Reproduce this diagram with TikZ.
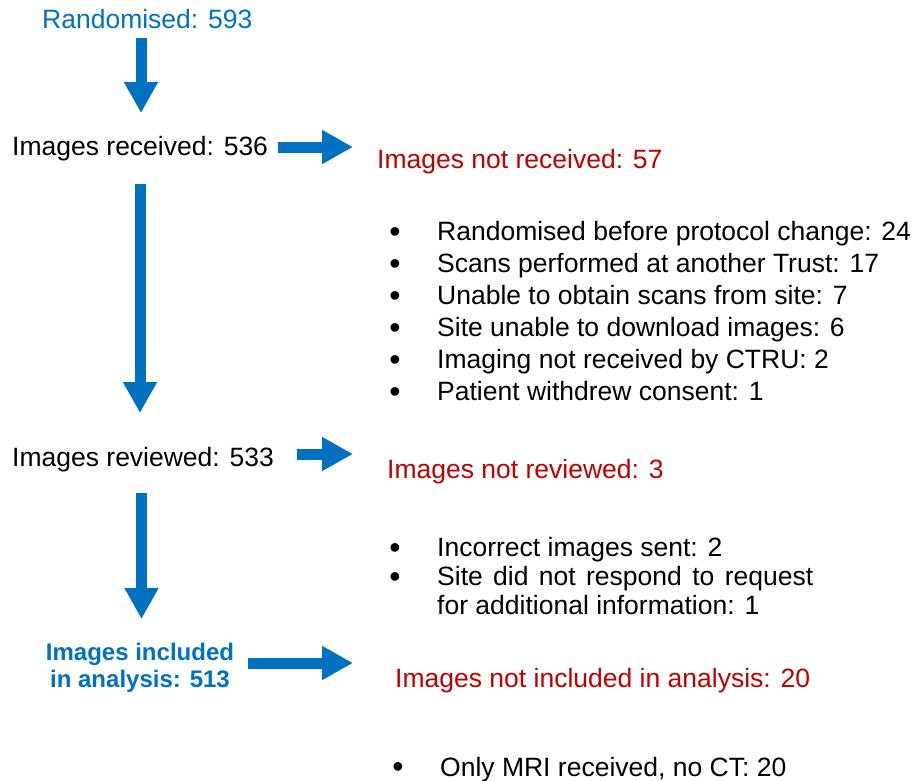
\documentclass[tikz,border=0pt]{standalone}
\usepackage{fontspec}
\setmainfont{Liberation Sans}
\usetikzlibrary{arrows.meta}
\definecolor{flowblue}{HTML}{0070C0}
\definecolor{flowred}{HTML}{C00000}
\begin{document}
\begin{tikzpicture}[x=1pt,y=-1pt,
  txt/.style={inner sep=0pt, font=\fontsize{26.5}{32}\selectfont, anchor=base west},
  bul/.style={inner sep=0pt, font=\fontsize{32}{32}\selectfont, anchor=base, text height=16pt, text depth=0pt},
  bigarrow/.style={draw=flowblue, line width=11pt, -{Triangle[length=31pt,width=32pt]}, flowblue}
]
\useasboundingbox (0,0) rectangle (914,780);

% main column
\node[txt, text=flowblue] (rand) at (42,28) {Randomised: 593};
\node[txt] (recv) at (12,155) {Images received: 536};
\node[txt] (revw) at (12,466) {Images reviewed: 533};
\node[inner sep=0pt, anchor=base, align=center, text=flowblue,
      font=\bfseries\fontsize{24}{27}\selectfont] (incl) at (140,687) {Images included\\in analysis: 513};

% exclusion headings
\node[txt, text=flowred] (notrecv) at (377,168) {Images not received: 57};
\node[txt, text=flowred] (notrevw) at (387,478) {Images not reviewed: 3};
\node[txt, text=flowred] (notincl) at (395,687) {Images not included in analysis: 20};

% list 1
\node[bul] (p1) at (395,242) {•};
\node[txt] (t1) at (437,240) {Randomised before protocol change: 24};
\node[bul] (p2) at (395,274) {•};
\node[txt] (t2) at (437,272) {Scans performed at another Trust: 17};
\node[bul] (p3) at (395,306) {•};
\node[txt] (t3) at (437,304) {Unable to obtain scans from site: 7};
\node[bul] (p4) at (395,338) {•};
\node[txt] (t4) at (437,336) {Site unable to download images: 6};
\node[bul] (p5) at (395,370) {•};
\node[txt] (t5) at (437,368) {Imaging not received by CTRU: 2};
\node[bul] (p6) at (395,402) {•};
\node[txt] (t6) at (437,400) {Patient withdrew consent: 1};

% list 2
\node[bul] (q1) at (395,558) {•};
\node[txt] (u1) at (437,556) {Incorrect images sent: 2};
\node[bul] (q2) at (395,587) {•};
\node[txt] (u2) at (437,585) {\makebox[376pt][s]{Site did not respond to request}};
\node[txt] (u3) at (437,614) {for additional information: 1};

% list 3
\node[bul] (s1) at (398,777) {•};
\node[txt] (v1) at (440,776) {Only MRI received, no CT: 20};

% arrow end points
\coordinate (d1s) at (141,38);   \coordinate (d1e) at (141,113);
\coordinate (h1s) at (278,147);  \coordinate (h1e) at (353,147);
\coordinate (d2s) at (140,184);  \coordinate (d2e) at (140,413);
\coordinate (h2s) at (297,454);  \coordinate (h2e) at (353,454);
\coordinate (d3s) at (141.5,493); \coordinate (d3e) at (141.5,619);
\coordinate (h3s) at (248,663);  \coordinate (h3e) at (353,663);

\draw[bigarrow] (d1s) -- (d1e);
\draw[bigarrow] (h1s) -- (h1e);
\draw[bigarrow] (d2s) -- (d2e);
\draw[bigarrow] (h2s) -- (h2e);
\draw[bigarrow] (d3s) -- (d3e);
\draw[bigarrow] (h3s) -- (h3e);
\end{tikzpicture}
\end{document}
